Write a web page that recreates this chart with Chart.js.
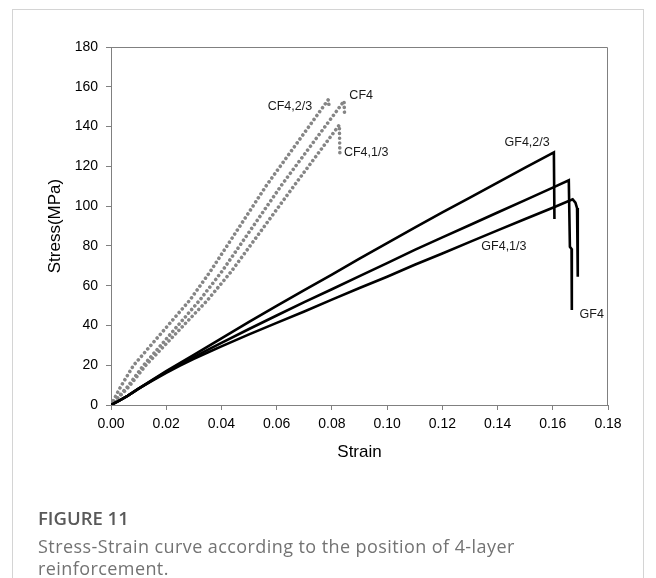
<!DOCTYPE html>
<html>
<head>
<meta charset="utf-8">
<script src="https://cdn.jsdelivr.net/npm/chart.js@4/dist/chart.umd.min.js"></script>
<style>
  html, body { margin: 0; padding: 0; background: #fff; }
  body { width: 656px; height: 578px; overflow: hidden; position: relative; }
  #card { position: absolute; left: 12px; top: 9px; width: 632px; height: 600px;
          border: 1px solid #d4d4d4; border-bottom: none; box-sizing: border-box; }
  #c { position: absolute; left: 0; top: 0; }
  #figtitle { position: absolute; left: 38px; top: 506px; font-family: "Open Sans", "Noto Sans", sans-serif;
              font-weight: 600; font-size: 18.5px; color: #595959; line-height: 24px; }
  #figcap { position: absolute; left: 38px; top: 535px; width: 610px; font-family: "Open Sans", "Noto Sans", sans-serif;
            font-size: 18px; letter-spacing: 0.42px; color: #737373; line-height: 22px; white-space: nowrap; }
</style>
</head>
<body>
<div id="card"></div>
<canvas id="c" width="656" height="578"></canvas>
<div id="figtitle">FIGURE 11</div>
<div id="figcap">Stress-Strain curve according to the position of 4-layer<br>reinforcement.</div>
<script>
// ---- data (strain, stress in MPa) ----
const xTickValues = [0, 0.02, 0.04, 0.06, 0.08, 0.10, 0.12, 0.14, 0.16, 0.18];
const xTickLabels = ['0.00','0.02','0.04','0.06','0.08','0.10','0.12','0.14','0.16','0.18'];
const yTickValues = [0, 20, 40, 60, 80, 100, 120, 140, 160, 180];
const yTickLabels = ['0','20','40','60','80','100','120','140','160','180'];

const gf23Strain = [0, 0.003, 0.006, 0.01, 0.015, 0.02, 0.03, 0.04, 0.05, 0.06, 0.07, 0.08, 0.09, 0.10, 0.11, 0.12, 0.13, 0.14, 0.15, 0.1604, 0.1606];
const gf23Stress = [0, 2.2, 4.6, 8.2, 12.6, 17, 25.2, 33.5, 41.8, 49.8, 57.8, 65.6, 73.6, 81.4, 89.2, 96.8, 104.3, 111.8, 119.4, 127, 93.5];

const gf4Strain = [0, 0.003, 0.006, 0.01, 0.015, 0.02, 0.025, 0.03, 0.035, 0.04, 0.05, 0.06, 0.07, 0.08, 0.09, 0.10, 0.11, 0.12, 0.13, 0.14, 0.15, 0.16, 0.1658, 0.1662, 0.1668, 0.1669];
const gf4Stress = [0, 2.2, 4.6, 8.2, 12.5, 16.6, 20.4, 24.1, 27.7, 31.2, 38.2, 45, 51.7, 58.2, 64.8, 71.3, 78, 84.3, 90.5, 96.8, 103, 109.3, 113, 79.6, 78.5, 47.8];

const gf13Strain = [0, 0.003, 0.006, 0.01, 0.015, 0.02, 0.025, 0.03, 0.035, 0.04, 0.05, 0.06, 0.07, 0.08, 0.09, 0.10, 0.11, 0.12, 0.13, 0.14, 0.15, 0.16, 0.1672, 0.1682, 0.1688, 0.1690, 0.1691];
const gf13Stress = [0, 2.2, 4.6, 8.2, 12.3, 16.2, 19.8, 23.2, 26.4, 29.5, 35.5, 41.3, 47, 53, 58.8, 64.5, 70.5, 76.2, 82, 87.8, 93.5, 99.2, 103.4, 101.8, 99, 96, 64.5];

const cf23Strain = [0, 0.0035, 0.0081, 0.0286, 0.0359, 0.0564, 0.0787, 0.0790];
const cf23Stress = [0, 9.2, 19.8, 52.8, 67, 110.6, 153.5, 150];

const cf4Strain = [0, 0.006, 0.0117, 0.0322, 0.0401, 0.0618, 0.0844, 0.0846];
const cf4Stress = [0, 9.2, 19.8, 52.8, 67, 110.6, 152.8, 145.5];

const cf13Strain = [0, 0.0065, 0.0125, 0.035, 0.0435, 0.0665, 0.0827, 0.0829];
const cf13Stress = [0, 9.2, 19.8, 52.8, 67, 110.6, 140.8, 125.7];

// curve labels (text + anchor in data units)
const labelTexts  = ['CF4,2/3', 'CF4', 'CF4,1/3', 'GF4,2/3', 'GF4,1/3', 'GF4'];
const labelStrain = [0.0648, 0.0906, 0.0924, 0.1507, 0.1423, 0.1741];
const labelStress = [150.2, 155.5, 126.7, 132.2, 79.6, 45.4];

const pts = (xs, ys) => xs.map((x, i) => ({x: x, y: ys[i]}));

const gfStyle = { borderColor: '#000', borderWidth: 2.6, pointRadius: 0, fill: false, tension: 0, borderJoinStyle: 'miter' };
const cfStyle = { borderColor: '#858585', borderWidth: 3.6, pointRadius: 0, fill: false, tension: 0,
                  borderDash: [0.01, 4.8], borderCapStyle: 'round' };

const boxPlugin = {
  id: 'box',
  afterDraw(chart) {
    const {ctx, chartArea: a} = chart;
    ctx.save();
    ctx.strokeStyle = '#808080';
    ctx.lineWidth = 1;
    ctx.beginPath();
    ctx.moveTo(a.left, a.top + 0.5);
    ctx.lineTo(a.right - 0.5, a.top + 0.5);
    ctx.lineTo(a.right - 0.5, a.bottom);
    ctx.stroke();
    ctx.restore();
  }
};

const labelPlugin = {
  id: 'curveLabels',
  afterDatasetsDraw(chart) {
    const {ctx, scales} = chart;
    ctx.save();
    ctx.font = '12.5px "Liberation Sans", Arial, sans-serif';
    ctx.fillStyle = '#1a1a1a';
    ctx.textAlign = 'center';
    ctx.textBaseline = 'middle';
    labelTexts.forEach((t, i) => {
      ctx.fillText(t, scales.x.getPixelForValue(labelStrain[i]), scales.y.getPixelForValue(labelStress[i]));
    });
    ctx.restore();
  }
};

const tickFont = { family: '"Liberation Sans", Arial, sans-serif', size: 14 };
const titleFont = { family: '"Liberation Sans", Arial, sans-serif', size: 17 };

new Chart(document.getElementById('c'), {
  type: 'line',
  data: {
    datasets: [
      Object.assign({ label: 'GF4,2/3', data: pts(gf23Strain, gf23Stress) }, gfStyle),
      Object.assign({ label: 'GF4', data: pts(gf4Strain, gf4Stress) }, gfStyle),
      Object.assign({ label: 'GF4,1/3', data: pts(gf13Strain, gf13Stress) }, gfStyle),
      Object.assign({ label: 'CF4,2/3', data: pts(cf23Strain, cf23Stress) }, cfStyle),
      Object.assign({ label: 'CF4', data: pts(cf4Strain, cf4Stress) }, cfStyle),
      Object.assign({ label: 'CF4,1/3', data: pts(cf13Strain, cf13Stress) }, cfStyle)
    ]
  },
  options: {
    responsive: false,
    animation: false,
    devicePixelRatio: 1,
    layout: { padding: { left: 0, right: 48, top: 47, bottom: 0 } },
    plugins: { legend: { display: false }, tooltip: { enabled: false } },
    scales: {
      x: {
        type: 'linear', min: 0, max: 0.18,
        afterBuildTicks: s => { s.ticks = xTickValues.map(v => ({ value: v })); },
        afterFit: s => { s.height = 173; },
        ticks: { callback: (v, i) => xTickLabels[i], font: tickFont, color: '#000', padding: 6,
                 maxRotation: 0, autoSkip: false },
        grid: { display: true, drawOnChartArea: false, drawTicks: true, tickLength: 5, color: '#808080' },
        border: { display: true, color: '#808080', width: 1 },
        title: { display: true, text: 'Strain', font: titleFont, color: '#000', padding: { top: 0, bottom: 115 } }
      },
      y: {
        type: 'linear', min: 0, max: 180,
        afterBuildTicks: s => { s.ticks = yTickValues.map(v => ({ value: v })); },
        afterFit: s => { s.width = 111; },
        ticks: { callback: (v, i) => yTickLabels[i], font: tickFont, color: '#000', padding: 8, autoSkip: false },
        grid: { display: true, drawOnChartArea: false, drawTicks: true, tickLength: 5, color: '#808080' },
        border: { display: true, color: '#808080', width: 1 },
        title: { display: true, text: 'Stress(MPa)', font: titleFont, color: '#000', padding: { top: 45, bottom: 0 } }
      }
    }
  },
  plugins: [boxPlugin, labelPlugin]
});
</script>
</body>
</html>
